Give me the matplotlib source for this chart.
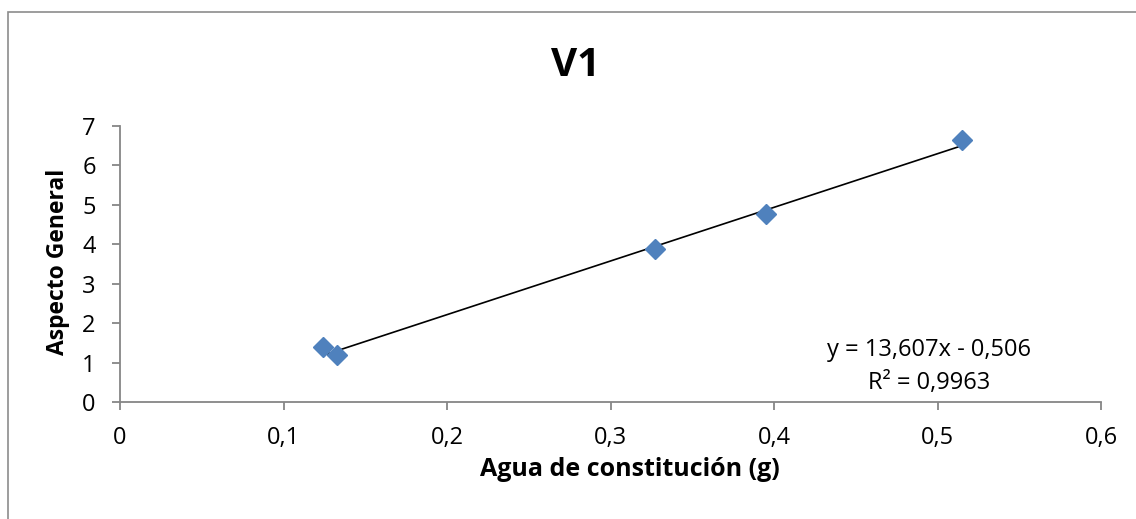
import matplotlib
matplotlib.use("Agg")
import matplotlib.pyplot as plt
from matplotlib.patches import Rectangle
import numpy as np

plt.rcParams['font.family'] = ['Open Sans', 'DejaVu Sans']

agua = [0.124, 0.133, 0.327, 0.395, 0.515]
aspecto = [1.39, 1.19, 3.89, 4.77, 6.64]
xticks = [0, 0.1, 0.2, 0.3, 0.4, 0.5, 0.6]
xticklabels = ['0', '0,1', '0,2', '0,3', '0,4', '0,5', '0,6']
yticks = [0, 1, 2, 3, 4, 5, 6, 7]
title = 'V1'
xlabel = 'Agua de constitución (g)'
ylabel = 'Aspecto General'
eq_text = 'y = 13,607x - 0,506\nR² = 0,9963'
slope, intercept = 13.607, -0.506

W, H = 1136, 519
fig = plt.figure(figsize=(W / 100, H / 100), dpi=100)
ax = fig.add_axes([120 / W, 1 - 402 / H, (1101 - 120) / W, (402 - 126) / H])

axis_grey = '#868686'
ax.set_xlim(0, 0.6)
ax.set_ylim(0, 7)

xs = np.array([min(agua), max(agua)])
ax.plot(xs, slope * xs + intercept, color='black', lw=1.2, zorder=3)
ax.plot(agua, aspecto, linestyle='none', marker='D', ms=10, color='#4F81BD',
        markeredgecolor='#4F81BD', zorder=4, clip_on=False)

ax.set_xticks(xticks)
ax.set_xticklabels(xticklabels)
ax.set_yticks(yticks)
for s in ['top', 'right']:
    ax.spines[s].set_visible(False)
for s in ['left', 'bottom']:
    ax.spines[s].set_color(axis_grey)
    ax.spines[s].set_linewidth(1.3)
ax.tick_params(axis='both', direction='out', length=5.5, width=1.3, color=axis_grey,
               labelsize=17, labelcolor='black')
ax.tick_params(axis='x', pad=12)
ax.tick_params(axis='y', pad=12)

ax.set_xlabel(xlabel, fontsize=18, fontweight='bold', va='center')
ax.xaxis.set_label_coords(630 / W, 1 - 469 / H, transform=fig.transFigure)
ax.set_ylabel(ylabel, fontsize=16.5, fontweight='bold', va='center')
ax.yaxis.set_label_coords(58 / W, 1 - 262 / H, transform=fig.transFigure)

fig.text(576 / W, 1 - 65 / H, title, fontsize=29, fontweight='bold',
         ha='center', va='center')
fig.text(929 / W, 1 - 367 / H, eq_text, fontsize=17, ha='center', va='center',
         multialignment='center', linespacing=1.5)

fig.patches.append(Rectangle((8 / W, -0.1), 1.2, (H - 12) / H + 0.1,
                             transform=fig.transFigure, fill=False,
                             edgecolor='#8c8c8c', lw=1.2))

fig.savefig('out.png', dpi=100)
